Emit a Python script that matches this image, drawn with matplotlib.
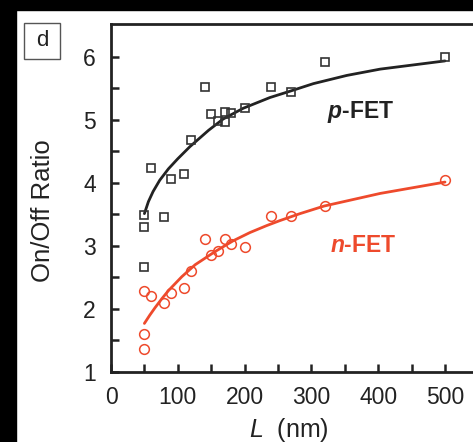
import matplotlib
matplotlib.use("Agg")
import matplotlib.pyplot as plt
from matplotlib.patches import Rectangle

plt.rcParams['font.family'] = ['Liberation Sans', 'DejaVu Sans']
plt.rcParams['mathtext.fontset'] = 'custom'
plt.rcParams['mathtext.rm'] = 'Liberation Sans'
plt.rcParams['mathtext.it'] = 'Liberation Sans:italic'
plt.rcParams['mathtext.bf'] = 'Liberation Sans:bold'
plt.rcParams['mathtext.bfit'] = 'Liberation Sans:italic:bold'

# channel length (nm) and measured on/off ratio
p_L = [50, 50, 50, 60, 80, 90, 110, 120, 140, 150, 160, 170, 170, 180, 200, 240, 270, 320, 500]
p_ratio = [3.49, 3.30, 2.67, 4.23, 3.45, 4.06, 4.13, 4.68, 5.51, 5.09, 4.98, 5.12, 4.96, 5.10,
           5.19, 5.51, 5.43, 5.91, 6.00]

n_L = [50, 60, 50, 50, 80, 90, 110, 120, 140, 150, 160, 170, 180, 200, 240, 270, 320, 500]
n_ratio = [2.28, 2.20, 1.60, 1.36, 2.09, 2.25, 2.33, 2.60, 3.11, 2.85, 2.91, 3.10, 3.03, 2.98,
           3.48, 3.47, 3.63, 4.05]

# fitted trend lines
p_fit_L = [50, 56, 63, 73, 86, 100, 118, 146, 168, 198, 238, 268, 303, 353, 403, 500]
p_fit = [3.51, 3.70, 3.86, 4.04, 4.22, 4.38, 4.57, 4.83, 5.01, 5.18, 5.35, 5.45, 5.57, 5.70,
         5.80, 5.93]

n_fit_L = [50, 58, 66, 76, 86, 106, 126, 156, 183, 208, 233, 253, 283, 319, 403, 500]
n_fit = [1.77, 1.90, 2.02, 2.16, 2.29, 2.51, 2.70, 2.91, 3.08, 3.21, 3.32, 3.40, 3.51, 3.63,
         3.83, 4.01]

x_ticks = [0, 100, 200, 300, 400, 500]
y_ticks = [1, 2, 3, 4, 5, 6]

RED = '#ee4a2c'
DARK = '#222222'

W, H = 473, 442
fig = plt.figure(figsize=(W / 100, H / 100), dpi=100)
fig.patch.set_facecolor('white')

# dark frame strips along top and left
fig.patches.append(Rectangle((0, 1 - 9.5 / H), 1, 9.5 / H, transform=fig.transFigure,
                             color='black', zorder=0))
fig.patches.append(Rectangle((0, 0), 16 / W, 1, transform=fig.transFigure,
                             color='black', zorder=0))

left, right, top, bottom = 111, 480, 24, 372
ax = fig.add_axes([left / W, 1 - bottom / H, (right - left) / W, (bottom - top) / H])
ax.set_xlim(0, (right - left) / 0.668)
ax.set_ylim(1, 1 + (bottom - top) / 63.1)

ax.plot(p_fit_L, p_fit, color=DARK, lw=2.0, solid_capstyle='round', solid_joinstyle='round',
        zorder=2)
ax.plot(n_fit_L, n_fit, color=RED, lw=2.0, solid_capstyle='round', solid_joinstyle='round',
        zorder=2)
ax.plot(p_L, p_ratio, ls='none', marker='s', ms=6.2, mfc='none', mec='#333333', mew=1.2, zorder=3)
ax.plot(n_L, n_ratio, ls='none', marker='o', ms=7, mfc='none', mec=RED, mew=1.1, zorder=3)

x_pos = list(range(0, 551, 50))
y_pos = [1 + 0.5 * i for i in range(11)]
ax.set_xticks(x_pos)
ax.set_xticklabels([str(v) if v in x_ticks else '' for v in x_pos])
ax.set_yticks(y_pos)
ax.set_yticklabels([str(int(v)) if v in y_ticks else '' for v in y_pos])
ax.tick_params(direction='in', length=6, width=1.8, color=DARK, labelsize=16.5,
               labelcolor=DARK)
ax.tick_params(axis='x', pad=10)
ax.tick_params(axis='y', pad=11)

for side in ['left', 'bottom', 'top']:
    ax.spines[side].set_linewidth(2.0)
    ax.spines[side].set_color(DARK)
ax.spines['right'].set_visible(False)

fig.text(43.5 / W, 1 - 211 / H, 'On/Off Ratio', rotation=90, ha='center', va='center',
         fontsize=18.5, color=DARK)
fig.text(289 / W, 1 - 437.5 / H, r'$L$  (nm)', ha='center', va='baseline',
         fontsize=18, color=DARK)

fig.text(327 / W, 1 - 112 / H, r'$\mathbfit{p}$-FET', ha='left', va='center',
         fontsize=16.5, fontweight='bold', color=DARK)
fig.text(330 / W, 1 - 246 / H, r'$\mathbfit{n}$-FET', ha='left', va='center',
         fontsize=16.5, fontweight='bold', color=RED)

# panel letter
fig.patches.append(Rectangle((24 / W, 1 - 59 / H), 36 / W, 36 / H, transform=fig.transFigure,
                             fill=False, ec='#555555', lw=1.0))
fig.text(42 / W, 1 - 40 / H, 'd', ha='center', va='center', fontsize=16, color=DARK)

fig.savefig('out.png', dpi=100)
